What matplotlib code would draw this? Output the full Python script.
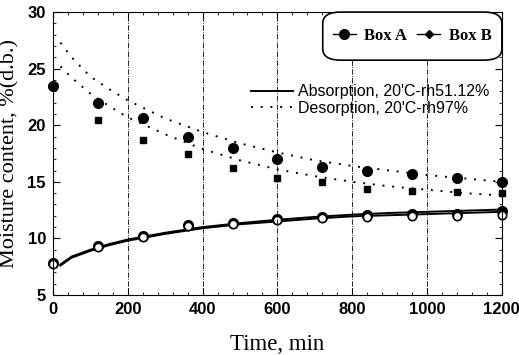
import matplotlib
matplotlib.use('Agg')
from matplotlib import pyplot as plt
from matplotlib.lines import Line2D
from matplotlib.patches import FancyBboxPatch

# measured points
time = [0, 120, 240, 360, 480, 600, 720, 840, 960, 1080, 1200]
des_a = [23.5, 22.0, 20.6, 19.0, 18.0, 17.0, 16.3, 16.0, 15.7, 15.3, 15.0]
des_b = [23.3, 20.5, 18.7, 17.5, 16.2, 15.3, 15.0, 14.4, 14.2, 14.1, 14.0]
abs_a = [7.8, 9.3, 10.2, 11.2, 11.4, 11.7, 11.9, 12.1, 12.2, 12.2, 12.4]
abs_b = [7.7, 9.2, 10.1, 11.1, 11.3, 11.6, 11.8, 11.9, 12.0, 12.0, 12.1]

# fitted curves
fit_t = [20, 50, 100, 150, 200, 300, 400, 500, 600, 700, 800, 900, 1000, 1100, 1200]
fit_des_a = [27.3, 26.0, 24.3, 23.2, 22.2, 20.6, 19.4, 18.4, 17.6, 16.9, 16.4, 16.0, 15.6, 15.3, 15.0]
fit_des_b = [25.2, 24.2, 22.8, 21.7, 20.7, 19.2, 17.9, 16.9, 16.1, 15.5, 15.0, 14.6, 14.3, 14.0, 13.8]
fit_abs_a = [7.7, 8.4, 9.0, 9.5, 9.9, 10.5, 11.0, 11.35, 11.65, 11.9, 12.1, 12.25, 12.35, 12.45, 12.55]
fit_abs_b = [7.6, 8.3, 8.9, 9.4, 9.8, 10.4, 10.9, 11.25, 11.5, 11.75, 11.95, 12.05, 12.15, 12.25, 12.35]

dots = (0, (1, 4))

fig = plt.figure(figsize=(5.19, 3.55), dpi=100)
ax = fig.add_axes([0.102, 0.169, 0.865, 0.797])

# curves
ax.plot(fit_t, fit_des_a, color='black', linestyle=dots, linewidth=1.4)
ax.plot(fit_t, fit_des_b, color='black', linestyle=dots, linewidth=1.4)
ax.plot(fit_t, fit_abs_a, color='black', linewidth=1.4)
ax.plot(fit_t, fit_abs_b, color='black', linewidth=1.4)

# points
ax.plot(time, des_a, 'o', color='black', markersize=7, clip_on=False)
ax.plot(time[1:], des_b[1:], 's', color='black', markersize=4.5, clip_on=False)
ax.plot(time, abs_a, 'o', color='black', markersize=7, clip_on=False)
ax.plot(time, abs_b, 'o', markerfacecolor='white', markeredgecolor='black',
        markeredgewidth=1.2, markersize=6, clip_on=False)

ax.set_xlim(0, 1200)
ax.set_ylim(5, 30)
ax.set_xticks([0, 200, 400, 600, 800, 1000, 1200])
ax.set_yticks([5, 10, 15, 20, 25, 30])
ax.set_xticks(range(0, 1201, 40), minor=True)
ax.set_yticks(range(5, 31, 1), minor=True)
ax.tick_params(direction='in', which='both', top=True, right=True)
ax.tick_params(which='major', length=5, pad=5)
ax.tick_params(which='minor', length=2.5)
for lab in ax.get_xticklabels() + ax.get_yticklabels():
    lab.set_fontfamily('Liberation Sans')
    lab.set_fontweight('bold')
    lab.set_fontsize(12)

for x in [200, 400, 600, 800, 1000]:
    ax.axvline(x, color='black', linestyle='-.', linewidth=0.6)

ax.set_xlabel('Time, min', fontfamily='Liberation Serif', fontsize=16.5, labelpad=12)
ax.set_ylabel('Moisture content, %(d.b.)', fontfamily='Liberation Serif', fontsize=16, labelpad=6)

# rounded box legend
box = FancyBboxPatch((0.601, 0.83), 0.399, 0.17, boxstyle='round,pad=0,rounding_size=0.04',
                     transform=ax.transAxes, facecolor='white', edgecolor='black',
                     linewidth=1.2, zorder=5, clip_on=False)
ax.add_patch(box)
h1 = Line2D([], [], color='black', marker='o', markersize=7, linewidth=1)
h2 = Line2D([], [], color='black', marker='D', markersize=4, linewidth=1)
leg1 = ax.legend([h1, h2], ['Box A', 'Box B'], ncol=2, frameon=False,
                 loc='center', bbox_to_anchor=(0.8, 0.915), handlelength=1.4,
                 columnspacing=0.6, handletextpad=0.5,
                 prop={'family': 'Liberation Serif', 'weight': 'bold', 'size': 12})
leg1.set_zorder(6)
ax.add_artist(leg1)

h3 = Line2D([], [], color='black', linewidth=1.4)
h4 = Line2D([], [], color='black', linestyle=dots, linewidth=1.4)
ax.legend([h3, h4], ['Absorption, 20\'C-rh51.12%', 'Desorption, 20\'C-rh97%'],
          frameon=False, loc='upper left', bbox_to_anchor=(0.41, 0.795),
          handlelength=2.6, handletextpad=0.3, labelspacing=0.1,
          prop={'family': 'Liberation Sans', 'size': 11.5})

fig.savefig('out.png', dpi=100)
